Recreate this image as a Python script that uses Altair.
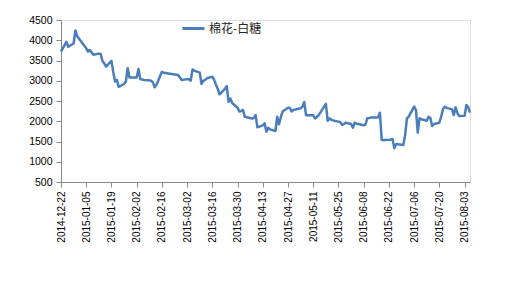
import altair as alt
import pandas as pd

dates = [
    "2014-12-22", "2014-12-23", "2014-12-24", "2014-12-25", "2014-12-26",
    "2014-12-29", "2014-12-30", "2014-12-31",
    "2015-01-05", "2015-01-06", "2015-01-07", "2015-01-08", "2015-01-09",
    "2015-01-12", "2015-01-13", "2015-01-14", "2015-01-15", "2015-01-16",
    "2015-01-19", "2015-01-20", "2015-01-21", "2015-01-22", "2015-01-23",
    "2015-01-26", "2015-01-27", "2015-01-28", "2015-01-29", "2015-01-30",
    "2015-02-02", "2015-02-03", "2015-02-04", "2015-02-05", "2015-02-06",
    "2015-02-09", "2015-02-10", "2015-02-11", "2015-02-12", "2015-02-13",
    "2015-02-16", "2015-02-17",
    "2015-02-25", "2015-02-26", "2015-02-27",
    "2015-03-02", "2015-03-03", "2015-03-04", "2015-03-05", "2015-03-06",
    "2015-03-09", "2015-03-10", "2015-03-11", "2015-03-12", "2015-03-13",
    "2015-03-16", "2015-03-17", "2015-03-18", "2015-03-19", "2015-03-20",
    "2015-03-23", "2015-03-24", "2015-03-25", "2015-03-26", "2015-03-27",
    "2015-03-30", "2015-03-31", "2015-04-01", "2015-04-02", "2015-04-03",
    "2015-04-07", "2015-04-08", "2015-04-09", "2015-04-10",
    "2015-04-13", "2015-04-14", "2015-04-15", "2015-04-16", "2015-04-17",
    "2015-04-20", "2015-04-21", "2015-04-22", "2015-04-23", "2015-04-24",
    "2015-04-27", "2015-04-28", "2015-04-29", "2015-04-30",
    "2015-05-04", "2015-05-05", "2015-05-06", "2015-05-07", "2015-05-08",
    "2015-05-11", "2015-05-12", "2015-05-13", "2015-05-14", "2015-05-15",
    "2015-05-18", "2015-05-19", "2015-05-20", "2015-05-21", "2015-05-22",
    "2015-05-25", "2015-05-26", "2015-05-27", "2015-05-28", "2015-05-29",
    "2015-06-01", "2015-06-02", "2015-06-03", "2015-06-04", "2015-06-05",
    "2015-06-08", "2015-06-09", "2015-06-10", "2015-06-11", "2015-06-12",
    "2015-06-15", "2015-06-16", "2015-06-17", "2015-06-18", "2015-06-19",
    "2015-06-23", "2015-06-24", "2015-06-25", "2015-06-26",
    "2015-06-29", "2015-06-30", "2015-07-01", "2015-07-02", "2015-07-03",
    "2015-07-06", "2015-07-07", "2015-07-08", "2015-07-09", "2015-07-10",
    "2015-07-13", "2015-07-14", "2015-07-15", "2015-07-16", "2015-07-17",
    "2015-07-20", "2015-07-21", "2015-07-22", "2015-07-23", "2015-07-24",
    "2015-07-27", "2015-07-28", "2015-07-29", "2015-07-30", "2015-07-31",
    "2015-08-03", "2015-08-04", "2015-08-05", "2015-08-06",
]

values = [
    3720, 3800, 3880, 3960, 3840,
    3920, 4240, 4100,
    3800, 3720, 3760, 3700, 3640,
    3670, 3660, 3490, 3430, 3350,
    3490, 3220, 2980, 3020, 2850,
    2920, 2980, 3310, 3080, 3080,
    3080, 3290, 3040, 3030, 3020,
    3010, 3000, 2960, 2840, 2900,
    3220, 3200,
    3140, 3080, 3020,
    3040, 3040, 3000, 3280, 3250,
    3200, 2920, 3000, 3020, 3060,
    3100, 3020, 2900, 2800, 2665,
    2800, 2870, 2480, 2560, 2450,
    2330, 2240, 2250, 2280, 2110,
    2070, 2080, 2150, 1850,
    1900, 1950, 1740, 1840, 1800,
    1760, 2110, 1925, 2100, 2240,
    2335, 2335, 2240, 2280,
    2320, 2360, 2475, 2150, 2150,
    2150, 2070, 2100, 2150, 2220,
    2430, 2010, 2070, 2040, 2020,
    1990, 1980, 1910, 1930, 1964,
    1930, 1840, 1964, 1940, 1930,
    1900, 1920, 2073, 2080, 2090,
    2095, 2100, 2210, 1540, 1540,
    1545, 1562, 1330, 1440,
    1420, 1414, 1660, 2073, 2112,
    2360, 2278, 1717, 2073, 2050,
    2013, 2112, 2080, 1883, 1930,
    1964, 2112, 2300, 2360, 2330,
    2294, 2154, 2343, 2200, 2130,
    2137, 2401, 2350, 2211,
]

series_name = "棉花-白糖"

x_ticks = [
    "2014-12-22", "2015-01-05", "2015-01-19", "2015-02-02", "2015-02-16",
    "2015-03-02", "2015-03-16", "2015-03-30", "2015-04-13", "2015-04-27",
    "2015-05-11", "2015-05-25", "2015-06-08", "2015-06-22", "2015-07-06",
    "2015-07-20", "2015-08-03",
]
y_ticks = [500, 1000, 1500, 2000, 2500, 3000, 3500, 4000, 4500]


def dt(s):
    y, m, d = (int(p) for p in s.split("-"))
    return alt.DateTime(year=y, month=m, date=d, utc=True)


df = pd.DataFrame({"date": dates, "value": values, "series": series_name})

line_color = "#4A7EBB"
axis_color = "#BDBDBD"
text_color = "#262626"

chart = (
    alt.Chart(df)
    .mark_line(strokeWidth=2.5, color=line_color, strokeJoin="round")
    .encode(
        x=alt.X(
            "date:T",
            scale=alt.Scale(type="utc", domain=[dt("2014-12-22"), dt("2015-08-06")]),
            axis=alt.Axis(
                values=[dt(s) for s in x_ticks],
                labelExpr="utcFormat(datum.value, '%Y-%m-%d')",
                labelAngle=-90,
                labelAlign="right",
                labelBaseline="middle",
                labelPadding=4,
                tickSize=5,
                title=None,
                grid=False,
                labelOverlap=False,
            ),
        ),
        y=alt.Y(
            "value:Q",
            scale=alt.Scale(domain=[500, 4500], nice=False, zero=False),
            axis=alt.Axis(
                values=y_ticks,
                format="d",
                title=None,
                grid=False,
                tickSize=5,
                labelPadding=4,
                labelFontSize=10.5,
            ),
        ),
        color=alt.Color(
            "series:N",
            scale=alt.Scale(domain=[series_name], range=[line_color]),
            legend=alt.Legend(
                title=None,
                orient="none",
                legendX=120,
                legendY=-4,
                symbolType="stroke",
                symbolSize=484,
                symbolStrokeWidth=3,
                labelFont="Noto Sans CJK SC",
                labelFontSize=12,
                labelColor=text_color,
                labelOffset=3,
                padding=0,
            ),
        ),
    )
    .properties(
        width=409,
        height=162,
        autosize=alt.AutoSizeParams(type="none"),
        padding={"left": 61, "top": 20, "right": 60, "bottom": 100},
    )
    .configure_view(stroke=None)
    .configure_axis(
        domainColor=axis_color,
        tickColor=axis_color,
        labelColor=text_color,
        labelFont="DejaVu Sans",
        labelFontSize=10,
    )
    .configure(background="white")
)

chart.save("out.html", embed_options={"renderer": "svg", "actions": False})
